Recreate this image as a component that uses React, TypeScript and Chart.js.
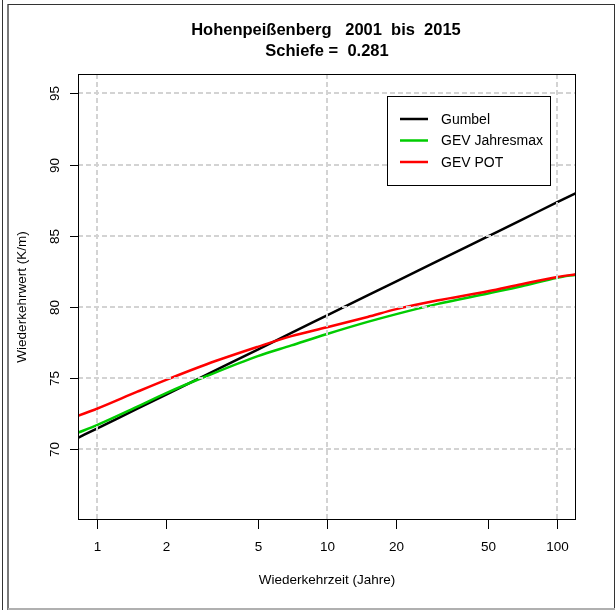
import React, { useEffect, useRef } from "react";
import { Chart, registerables } from "chart.js";

Chart.register(...registerables);

// Data
const returnPeriods = [0.828, 1, 1.5, 2, 3, 5, 7, 10, 15, 20, 30, 50, 70, 100, 120.6];
const gumbel = [70.81, 71.46, 72.86, 73.85, 75.25, 77.01, 78.18, 79.41, 80.81, 81.8, 83.2, 84.96, 86.12, 87.36, 88.0];
const gevJahresmax = [71.17, 71.7, 73.0, 73.95, 75.15, 76.55, 77.3, 78.1, 78.95, 79.5, 80.2, 80.95, 81.45, 82.05, 82.27];
const gevPot = [72.36, 72.85, 74.05, 74.88, 75.98, 77.2, 77.95, 78.57, 79.3, 79.85, 80.45, 81.1, 81.6, 82.1, 82.3];

const xTicks = [1, 2, 5, 10, 20, 50, 100];
const xGrid = [1, 10, 100];
const yTicks = [70, 75, 80, 85, 90, 95];

const seriesNames = ["Gumbel", "GEV Jahresmax", "GEV POT"];
const seriesColors = ["#000000", "#00cc00", "#ff0000"];

const titleLine1 = "Hohenpeißenberg   2001  bis  2015";
const titleLine2 = "Schiefe =  0.281";
const xTitle = "Wiederkehrzeit (Jahre)";
const yTitle = "Wiederkehrwert (K/m)";

const FONT = "'Liberation Sans', Arial, Helvetica, sans-serif";

const framePlugin = {
  id: "rframe",
  beforeDraw(chart: any) {
    const ctx = chart.ctx;
    ctx.save();
    ctx.fillStyle = "#ffffff";
    ctx.fillRect(0, 0, chart.width, chart.height);
    ctx.fillStyle = "#333333";
    ctx.fillRect(2, 0, 1, chart.height);
    ctx.fillStyle = "#7a7a7a";
    ctx.fillRect(7, 4, 2, chart.height - 4);
    ctx.fillStyle = "#333333";
    ctx.fillRect(8, 4, chart.width - 8, 1);
    ctx.fillRect(chart.width - 1, 4, 1, chart.height - 6);
    ctx.fillStyle = "#b0b0b0";
    ctx.fillRect(8, chart.height - 2, chart.width - 8, 2);
    ctx.restore();
  },
};

const decorPlugin = {
  id: "rdecor",
  afterDatasetsDraw(chart: any) {
    const ctx = chart.ctx;
    const { left, right, top, bottom } = chart.chartArea;
    const xs = chart.scales.x;
    const ys = chart.scales.y;
    ctx.save();

    // grid (drawn over the lines, like R's grid())
    ctx.strokeStyle = "#d3d3d3";
    ctx.lineWidth = 2;
    ctx.setLineDash([5, 3]);
    for (const v of xGrid) {
      const px = Math.round(xs.getPixelForValue(v));
      ctx.beginPath();
      ctx.moveTo(px, top);
      ctx.lineTo(px, bottom);
      ctx.stroke();
    }
    for (const v of yTicks) {
      const py = Math.round(ys.getPixelForValue(v));
      ctx.beginPath();
      ctx.moveTo(left, py);
      ctx.lineTo(right, py);
      ctx.stroke();
    }
    ctx.setLineDash([]);

    // plot box
    ctx.strokeStyle = "#000000";
    ctx.lineWidth = 1;
    ctx.strokeRect(left + 0.5, top + 0.5, right - left - 1, bottom - top - 1);

    // ticks + labels
    ctx.fillStyle = "#000000";
    ctx.font = `13.5px ${FONT}`;
    ctx.textAlign = "center";
    ctx.textBaseline = "middle";
    for (const v of xTicks) {
      const px = Math.round(xs.getPixelForValue(v)) + 0.5;
      ctx.beginPath();
      ctx.moveTo(px, bottom);
      ctx.lineTo(px, bottom + 9);
      ctx.stroke();
      ctx.fillText(String(v), px, bottom + 27);
    }
    for (const v of yTicks) {
      const py = Math.round(ys.getPixelForValue(v)) + 0.5;
      ctx.beginPath();
      ctx.moveTo(left, py);
      ctx.lineTo(left - 8, py);
      ctx.stroke();
      ctx.save();
      ctx.translate(55, py);
      ctx.rotate(-Math.PI / 2);
      ctx.fillText(String(v), 0, 0);
      ctx.restore();
    }

    // axis titles
    const cx = (left + right) / 2;
    const cy = (top + bottom) / 2;
    ctx.fillText(xTitle, cx, 580);
    ctx.save();
    ctx.translate(22, cy);
    ctx.rotate(-Math.PI / 2);
    ctx.fillText(yTitle, 0, 0);
    ctx.restore();

    // main title
    ctx.font = `bold 16.5px ${FONT}`;
    ctx.fillText(titleLine1, cx - 1, 30);
    ctx.fillText(titleLine2, cx, 51);

    // legend
    const bx = 387.5, by = 96.5, bw = 163, bh = 89;
    ctx.fillStyle = "#ffffff";
    ctx.fillRect(bx, by, bw, bh);
    ctx.strokeStyle = "#000000";
    ctx.lineWidth = 1;
    ctx.strokeRect(bx, by, bw, bh);
    ctx.font = `14px ${FONT}`;
    ctx.textAlign = "left";
    const rows = [119, 140.5, 162];
    seriesNames.forEach((name, i) => {
      ctx.strokeStyle = seriesColors[i];
      ctx.lineWidth = 2.5;
      ctx.beginPath();
      ctx.moveTo(400, rows[i]);
      ctx.lineTo(428, rows[i]);
      ctx.stroke();
      ctx.fillStyle = "#000000";
      ctx.fillText(name, 441, rows[i] + 1);
    });

    ctx.restore();
  },
};

export default function App() {
  const canvasRef = useRef<HTMLCanvasElement | null>(null);

  useEffect(() => {
    const canvas = canvasRef.current;
    if (!canvas) return;
    const series = [gumbel, gevJahresmax, gevPot];
    const chart = new Chart(canvas, {
      type: "line",
      data: {
        datasets: series.map((vals, i) => ({
          label: seriesNames[i],
          data: returnPeriods.map((t, k) => ({ x: t, y: vals[k] })),
          borderColor: seriesColors[i],
          borderWidth: 2.5,
          pointRadius: 0,
          fill: false,
          cubicInterpolationMode: "monotone" as const,
          order: 3 - i,
        })),
      },
      options: {
        responsive: false,
        animation: false,
        devicePixelRatio: 1,
        layout: { padding: { left: 78, right: 39, top: 74, bottom: 90 } },
        plugins: {
          legend: { display: false },
          title: { display: false },
          tooltip: { enabled: false },
        },
        events: [],
        scales: {
          x: { type: "logarithmic", min: 0.828, max: 120.6, display: false },
          y: { type: "linear", min: 65.04, max: 96.36, display: false },
        },
      },
      plugins: [framePlugin, decorPlugin],
    });
    return () => chart.destroy();
  }, []);

  return (
    <canvas
      ref={canvasRef}
      width={615}
      height={610}
      style={{ position: "fixed", left: 0, top: 0, width: 615, height: 610 }}
    />
  );
}
